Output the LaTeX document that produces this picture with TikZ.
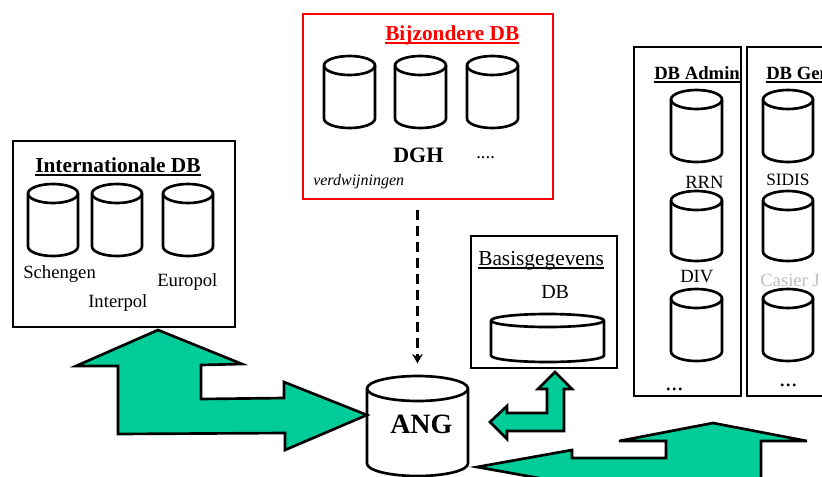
\documentclass[tikz,border=0pt]{standalone}
\usepackage{fontspec}
\setmainfont{Liberation Serif}
\usetikzlibrary{arrows.meta}
\definecolor{arrowgreen}{RGB}{0,204,153}
\definecolor{redline}{RGB}{255,0,0}
\definecolor{greytext}{RGB}{190,190,190}
\newcommand\ulx[1]{\setbox0\hbox{#1}\rlap{\vrule width\wd0 height -1.7pt depth 3.0pt}\box0}
\tikzset{
  panel/.style={draw=black,line width=2pt,fill=white,inner sep=0pt},
  redpanel/.style={draw=redline,line width=2pt,fill=white,inner sep=0pt},
  cylframe/.style={draw=black,line width=2pt,fill=white,line join=round},
  bigarrow/.style={draw=black,line width=2pt,fill=arrowgreen,line join=miter,miter limit=10},
  lab/.style={inner sep=0pt,anchor=base west,font=\fontsize{14pt}{16pt}\selectfont},
  cylbox/.style={inner sep=0pt,outer sep=0pt}
}
% \cyl{name}{left}{top}{right}{bottom}{ry}
\newcommand\cyl[6]{%
  \node[cylbox,minimum width=#4*0.75pt-#2*0.75pt,minimum height=#5*0.75pt-#3*0.75pt] (#1) at ({(#2+#4)/2},{(#3+#5)/2}) {};
  \draw[cylframe] (#2,#3+#6) arc[start angle=180,end angle=360,x radius={(#4-#2)/2},y radius=#6*1]
     -- (#4,#5-#6) arc[start angle=0,end angle=180,x radius={(#4-#2)/2},y radius=#6*1] -- cycle;
  \draw[cylframe,fill=none] (#2,#3+#6) arc[start angle=180,end angle=0,x radius={(#4-#2)/2},y radius=#6*1];
}
\begin{document}
\begin{tikzpicture}[x=0.75pt,y=-0.75pt]
\useasboundingbox (0,0) rectangle (822,476);
\clip (0,0) rectangle (822,476);
% panels
\node[panel,minimum width=166.5pt,minimum height=139.5pt] (intl) at (124,234) {};
\node[redpanel,minimum width=187.5pt,minimum height=138.75pt] (bijz) at (428,106.5) {};
\node[panel,minimum width=80.25pt,minimum height=261.75pt] (admin) at (687.5,221.5) {};
\node[panel,minimum width=90pt,minimum height=261.75pt] (gen) at (807,221.5) {};
\node[panel,minimum width=109.5pt,minimum height=99pt] (basis) at (544,302) {};
% cylinders
\cyl{schengen}{28}{184}{78}{256}{9.5}
\cyl{interpol}{92}{184}{142}{256}{9.5}
\cyl{europol}{163}{184}{213}{256}{9.5}
\cyl{bija}{324}{56}{375}{128}{9.5}
\cyl{bijb}{395}{56}{446}{128}{9.5}
\cyl{bijc}{467}{56}{518}{128}{9.5}
\cyl{adma}{671}{90}{722}{162}{9.5}
\cyl{admb}{671}{191}{722}{261}{9.5}
\cyl{admc}{671}{289}{722}{361}{9.5}
\cyl{gena}{763}{90}{813}{162}{9.5}
\cyl{genb}{763}{191}{813}{261}{9.5}
\cyl{genc}{763}{289}{813}{361}{9.5}
\cyl{basiscyl}{491}{314}{604}{362}{6.5}
\cyl{ang}{367}{376}{468}{476}{12.5}
% labels
\node[lab,font=\fontsize{16pt}{18pt}\selectfont\bfseries] (tintl) at (35,172) {\ulx{Internationale DB}};
\node[lab] (tsch) at (23,278) {Schengen};
\node[lab] (tint) at (88,307) {Interpol};
\node[lab] (teur) at (157,286) {Europol};
\node[lab,text=redline,font=\fontsize{16pt}{18pt}\selectfont\bfseries] (tbij) at (385,40) {\ulx{Bijzondere DB}};
\node[lab,font=\fontsize{16.5pt}{18pt}\selectfont\bfseries] (tdgh) at (393,162) {DGH};
\node[lab] (tdots) at (476,158) {....};
\node[lab,font=\fontsize{12pt}{14pt}\selectfont\itshape] (tverd) at (313,185) {verdwijningen};
\node[lab,font=\fontsize{16pt}{18pt}\selectfont] (tbasis) at (478,265) {\ulx{Basisgegevens}};
\node[lab,font=\fontsize{15pt}{18pt}\selectfont] (tdb) at (541,298) {DB};
\node[lab,font=\fontsize{21pt}{24pt}\selectfont\bfseries] (tang) at (390,433) {ANG};
\node[lab,font=\fontsize{14pt}{16pt}\selectfont\bfseries] (tadm) at (654,79) {\ulx{DB Admin}};
\node[lab,font=\fontsize{14pt}{16pt}\selectfont\bfseries] (tgen) at (766,79) {\ulx{DB Gen}};
\node[lab] (trrn) at (685,188) {RRN};
\node[lab,font=\fontsize{13pt}{16pt}\selectfont] (tsid) at (766,185) {SIDIS};
\node[lab,font=\fontsize{14pt}{16pt}\selectfont] (tdiv) at (680,282) {DIV};
\node[lab,text=greytext] (tcas) at (760,286) {Casier J};
\node[lab,font=\fontsize{18pt}{20pt}\selectfont] (tda) at (665,390) {...};
\node[lab,font=\fontsize{18pt}{20pt}\selectfont] (tdg) at (779,386) {...};
% connector
\draw[line width=2pt,dash pattern=on 7.5pt off 4.5pt,-{Stealth[length=7pt,width=8pt]},shorten <=7.5pt,shorten >=9.5pt] (ang.north |- bijz.south) -- (ang.north);
% big arrows
\draw[bigarrow] (158,330) -- (242,364) -- (201,365) -- (201,399) -- (284,398) -- (284,382) -- (367,415) -- (285,450) -- (285,433) -- (118,434) -- (118,366) -- (76,366) -- cycle;
\draw[bigarrow] (555,372) -- (572,389) -- (564,389) -- (564,431) -- (507,431) -- (507,439) -- (490,422) -- (507,406) -- (507,413) -- (547,413) -- (547,389) -- (538,389) -- cycle;
\draw[bigarrow] (713,423) -- (807,441) -- (761,441) -- (761,490) -- (572,490) -- (572,484) -- (477,467) -- (572,450) -- (572,458) -- (666,458) -- (666,441) -- (619,441) -- cycle;
\end{tikzpicture}
\end{document}
